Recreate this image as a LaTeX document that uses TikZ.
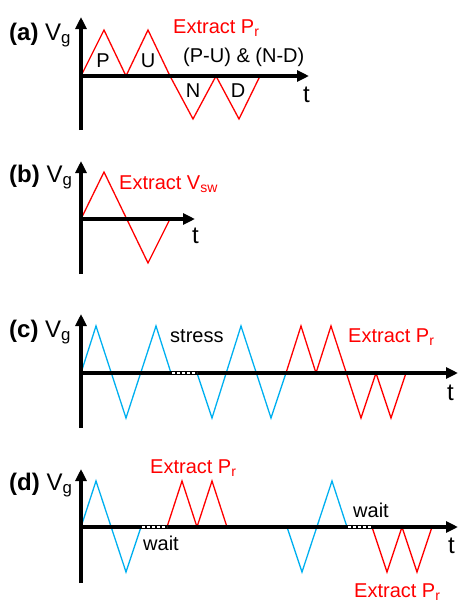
\documentclass[tikz,border=0pt]{standalone}
\usepackage{fontspec}
\setmainfont{Liberation Sans}
\usetikzlibrary{arrows.meta}
\definecolor{wred}{RGB}{255,0,0}
\definecolor{wblue}{RGB}{0,176,240}
\tikzset{
  axisline/.style={line width=3.5pt,-{Triangle[length=12pt,width=11pt]}},
  redwave/.style={wred,line width=1.3pt,line join=miter},
  bluewave/.style={wblue,line width=1.3pt,line join=miter},
  gapline/.style={white,line width=1.6pt,dash pattern=on 3pt off 2pt},
  lbl/.style={anchor=base west,inner sep=0pt,font=\fontsize{24}{28}\selectfont},
  txt/.style={anchor=base west,inner sep=0pt,font=\fontsize{20}{24}\selectfont},
  ctxt/.style={anchor=base,inner sep=0pt,font=\fontsize{20}{24}\selectfont},
  rtxt/.style={txt,text=wred},
}
\begin{document}
\begin{tikzpicture}[x=1pt,y=-1pt]
\useasboundingbox (0,0) rectangle (459,603);
% ---------- (a)
\draw[redwave] (81,76)--(104,30)--(126,76)--(148,30)--(170,76)--(193,119)--(216,76)--(239,119)--(260,76);
\draw[axisline] (81,130) -- (81,17);
\draw[axisline] (79,76) -- (309,76);
\node[lbl] (la) at (9,40) {\textbf{(a)} V\textsubscript{g}};
\node[rtxt] (exa) at (173,33) {Extract P\textsubscript{r}};
\node[txt] (pund) at (183,62) {(P-U) \& (N-D)};
\node[ctxt] (P) at (103,67) {P};
\node[ctxt] (U) at (148,67) {U};
\node[ctxt] (N) at (193,97) {N};
\node[ctxt] (D) at (238,97) {D};
\node[lbl] (ta) at (303,102) {t};
% ---------- (b)
\draw[redwave] (81,219)--(104,172)--(148,263)--(170,219);
\draw[axisline] (81,274) -- (81,161);
\draw[axisline] (79,219) -- (195,219);
\node[lbl] (lb) at (9,182) {\textbf{(b)} V\textsubscript{g}};
\node[rtxt] (exb) at (119,189) {Extract V\textsubscript{sw}};
\node[lbl] (tb) at (192,243) {t};
% ---------- (c)
\draw[bluewave] (81,373)--(96,326)--(126,418)--(156,326)--(171,373);
\draw[bluewave] (197,373)--(212,418)--(241,326)--(271,418)--(286,373);
\draw[redwave] (286,373)--(301,326)--(316,373)--(331,326)--(361,418)--(376,373)--(391,418)--(406,373);
\draw[axisline] (81,428) -- (81,314);
\draw[axisline] (79,373) -- (458,373);
\draw[gapline] (172,373) -- (197,373);
\node[lbl] (lc) at (9,337) {\textbf{(c)} V\textsubscript{g}};
\node[txt] (stress) at (170,342) {stress};
\node[rtxt] (exc) at (348,342) {Extract P\textsubscript{r}};
\node[lbl] (tc) at (447,400) {t};
% ---------- (d)
\draw[bluewave] (81,527)--(96,481)--(126,572)--(141,527);
\draw[redwave] (167,527)--(182,481)--(197,527)--(212,481)--(227,527);
\draw[bluewave] (287,527)--(302,572)--(332,481)--(347,527);
\draw[redwave] (372,527)--(387,572)--(402,527)--(417,572)--(432,527);
\draw[axisline] (81,583) -- (81,469);
\draw[axisline] (79,527) -- (458,527);
\draw[gapline] (142,527) -- (167,527);
\draw[gapline] (348,527) -- (372,527);
\node[lbl] (ld) at (9,490) {\textbf{(d)} V\textsubscript{g}};
\node[rtxt] (exd1) at (150,473) {Extract P\textsubscript{r}};
\node[txt] (wait1) at (143,550) {wait};
\node[txt] (wait2) at (353,517) {wait};
\node[rtxt] (exd2) at (354,597) {Extract P\textsubscript{r}};
\node[lbl] (td) at (448,553) {t};
\end{tikzpicture}
\end{document}
